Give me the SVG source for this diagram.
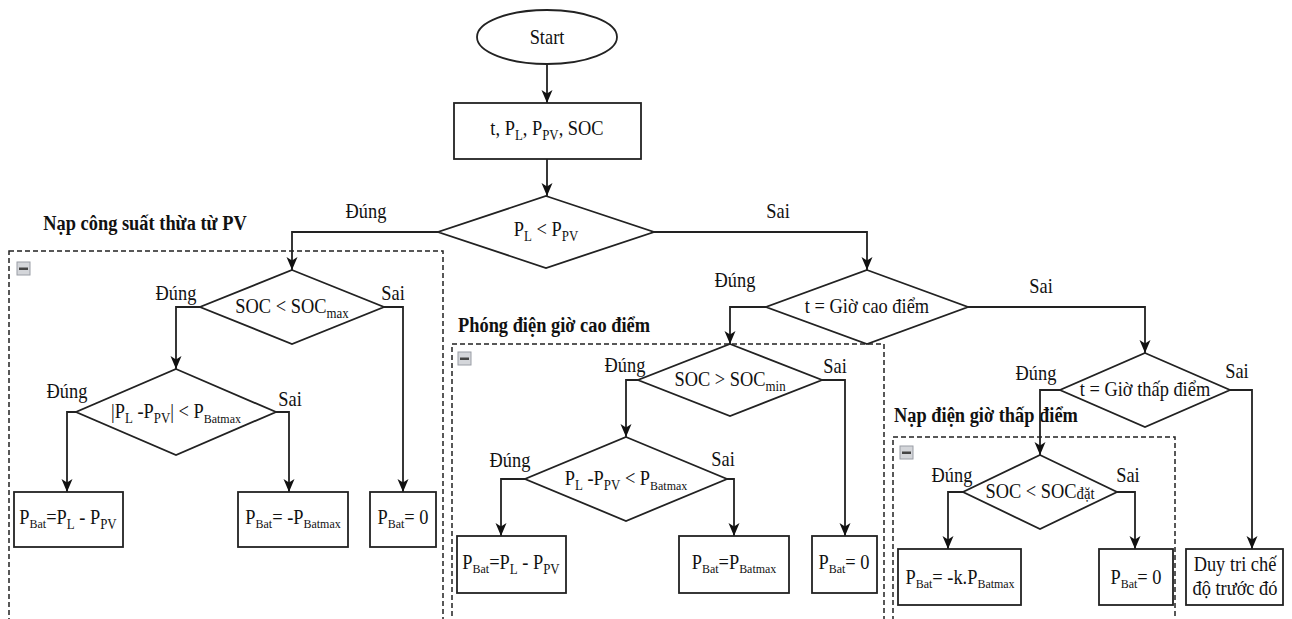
<svg xmlns="http://www.w3.org/2000/svg" width="1292" height="619" viewBox="0 0 1292 619" font-family="Liberation Serif, Times New Roman, serif">
<defs>
<style>
text{font-family:'Liberation Serif','Times New Roman',serif}
.t{font-size:20px;fill:#111;text-anchor:middle;transform-box:fill-box;transform-origin:center;transform:scaleX(0.92)}
.h{font-weight:bold}
.s{font-size:14px}
.b{font-size:13px}
.node{fill:#fff;stroke:#222;stroke-width:1.8}
.grp{fill:none;stroke:#222;stroke-width:1.5;stroke-dasharray:5 3}
.c{fill:none;stroke:#222;stroke-width:1.8;marker-end:url(#arr)}
.ic{fill:#d4d6da;stroke:#9a9ea6;stroke-width:1}
.icb{fill:#444}
</style>
<marker id="arr" markerUnits="userSpaceOnUse" markerWidth="14" markerHeight="12" refX="13" refY="5.5" orient="auto">
<path d="M0,0 L13,5.5 L0,11 L3.5,5.5 z" fill="#111"/>
</marker>
</defs>
<rect width="1292" height="619" fill="#fff"/>

<g id="groups">
<g id="grp-pv">
<rect class="grp" x="9" y="251" width="434" height="400"/>
<rect class="ic" x="17" y="262" width="13" height="13"/><rect class="icb" x="19" y="267.5" width="9" height="2.5"/>
<text class="t h" x="145" y="230">Nạp công suất thừa từ PV</text>
</g>
<g id="grp-peak">
<rect class="grp" x="452" y="344" width="432" height="300"/>
<rect class="ic" x="458" y="352" width="13" height="13"/><rect class="icb" x="460" y="357.5" width="9" height="2.5"/>
<text class="t h" x="554" y="332">Phóng điện giờ cao điểm</text>
</g>
<g id="grp-low">
<rect class="grp" x="893" y="437" width="282" height="250"/>
<rect class="ic" x="900" y="446" width="13" height="13"/><rect class="icb" x="902" y="451.5" width="9" height="2.5"/>
<text class="t h" x="986" y="422">Nạp điện giờ thấp điểm</text>
</g>
</g>

<g id="connectors">
<path class="c" d="M547,64 V103"/>
<path class="c" d="M547,159 V196"/>
<path class="c" d="M438,232 H292 V270"/>
<path class="c" d="M654,232 H867 V270"/>
<path class="c" d="M200,307 H176 V369"/>
<path class="c" d="M384,307 H403 V492"/>
<path class="c" d="M76,412 H67 V492"/>
<path class="c" d="M276,412 H289 V492"/>
<path class="c" d="M766,307 H730 V344"/>
<path class="c" d="M968,307 H1145 V353"/>
<path class="c" d="M638,380 H626 V437"/>
<path class="c" d="M822,380 H845 V536"/>
<path class="c" d="M525,479 H501 V536"/>
<path class="c" d="M727,479 H734 V536"/>
<path class="c" d="M1060,390 H1040 V455"/>
<path class="c" d="M1230,390 H1252 V549"/>
<path class="c" d="M963,492 H948 V549"/>
<path class="c" d="M1117,492 H1135 V549"/>
<text class="t" x="366" y="218">Đúng</text>
<text class="t" x="778" y="218">Sai</text>
<text class="t" x="176" y="300">Đúng</text>
<text class="t" x="393" y="300">Sai</text>
<text class="t" x="67" y="398">Đúng</text>
<text class="t" x="290" y="406">Sai</text>
<text class="t" x="735" y="287">Đúng</text>
<text class="t" x="1041" y="293">Sai</text>
<text class="t" x="625" y="372">Đúng</text>
<text class="t" x="835" y="373">Sai</text>
<text class="t" x="510" y="467">Đúng</text>
<text class="t" x="723" y="466">Sai</text>
<text class="t" x="1036" y="380">Đúng</text>
<text class="t" x="1237" y="378">Sai</text>
<text class="t" x="952" y="482">Đúng</text>
<text class="t" x="1128" y="482">Sai</text>
</g>

<g id="start">
<ellipse class="node" cx="547" cy="37" rx="70" ry="27"/>
<text class="t" x="547" y="44">Start</text>
</g>
<g id="input">
<rect class="node" x="454" y="103" width="187" height="56"/>
<text class="t" x="547" y="135">t, P<tspan class="s" dy="5">L</tspan><tspan dy="-5">, P</tspan><tspan class="s" dy="5">PV</tspan><tspan dy="-5">, SOC</tspan></text>
</g>
<g id="d-pl-ppv">
<polygon class="node" points="546,196 654,232 546,268 438,232"/>
<text class="t" x="546" y="236">P<tspan class="s" dy="5">L</tspan><tspan dy="-5"> &lt; P</tspan><tspan class="s" dy="5">PV</tspan></text>
</g>
<g id="d-soc-max">
<polygon class="node" points="292,270 384,307 292,344 200,307"/>
<text class="t" x="292" y="313">SOC &lt; SOC<tspan class="s" dy="5">max</tspan></text>
</g>
<g id="d-abs">
<polygon class="node" points="176,369 276,412 176,455 76,412"/>
<text class="t" x="176" y="418">|P<tspan class="s" dy="5">L</tspan><tspan dy="-5"> -P</tspan><tspan class="s" dy="5">PV</tspan><tspan dy="-5">| &lt; P</tspan><tspan class="b" dy="5">Batmax</tspan></text>
</g>
<g id="r-pv-1">
<rect class="node" x="14" y="492" width="109" height="55"/>
<text class="t" x="68" y="524">P<tspan class="b" dy="4">Bat</tspan><tspan dy="-4">=P</tspan><tspan class="s" dy="5">L</tspan><tspan dy="-5"> - P</tspan><tspan class="s" dy="5">PV</tspan></text>
</g>
<g id="r-pv-2">
<rect class="node" x="238" y="492" width="110" height="55"/>
<text class="t" x="293" y="524">P<tspan class="b" dy="4">Bat</tspan><tspan dy="-4">= -P</tspan><tspan class="b" dy="4">Batmax</tspan></text>
</g>
<g id="r-pv-3">
<rect class="node" x="370" y="492" width="66" height="55"/>
<text class="t" x="403" y="524">P<tspan class="b" dy="4">Bat</tspan><tspan dy="-4">= 0</tspan></text>
</g>
<g id="d-peak">
<polygon class="node" points="867,270 968,307 867,344 766,307"/>
<text class="t" x="867" y="313">t = Giờ cao điểm</text>
</g>
<g id="d-soc-min">
<polygon class="node" points="730,344 822,380 730,416 638,380"/>
<text class="t" x="730" y="386">SOC &gt; SOC<tspan class="s" dy="5">min</tspan></text>
</g>
<g id="d-diff">
<polygon class="node" points="626,437 727,479 626,521 525,479"/>
<text class="t" x="626" y="485">P<tspan class="s" dy="5">L</tspan><tspan dy="-5"> -P</tspan><tspan class="s" dy="5">PV</tspan><tspan dy="-5"> &lt; P</tspan><tspan class="b" dy="5">Batmax</tspan></text>
</g>
<g id="r-peak-1">
<rect class="node" x="457" y="536" width="109" height="57"/>
<text class="t" x="511" y="569">P<tspan class="b" dy="4">Bat</tspan><tspan dy="-4">=P</tspan><tspan class="s" dy="5">L</tspan><tspan dy="-5"> - P</tspan><tspan class="s" dy="5">PV</tspan></text>
</g>
<g id="r-peak-2">
<rect class="node" x="679" y="536" width="110" height="57"/>
<text class="t" x="734" y="569">P<tspan class="b" dy="4">Bat</tspan><tspan dy="-4">=P</tspan><tspan class="b" dy="4">Batmax</tspan></text>
</g>
<g id="r-peak-3">
<rect class="node" x="812" y="536" width="65" height="57"/>
<text class="t" x="844" y="569">P<tspan class="b" dy="4">Bat</tspan><tspan dy="-4">= 0</tspan></text>
</g>
<g id="d-low">
<polygon class="node" points="1145,353 1230,390 1145,427 1060,390"/>
<text class="t" x="1145" y="396">t = Giờ thấp điểm</text>
</g>
<g id="d-soc-set">
<polygon class="node" points="1040,455 1117,492 1040,529 963,492"/>
<text class="t" x="1040" y="498">SOC &lt; SOC<tspan style="font-size:16px" dy="1">đặt</tspan></text>
</g>
<g id="r-low-1">
<rect class="node" x="898" y="549" width="123" height="56"/>
<text class="t" x="960" y="584">P<tspan class="b" dy="4">Bat</tspan><tspan dy="-4">= -k.P</tspan><tspan class="b" dy="4">Batmax</tspan></text>
</g>
<g id="r-low-2">
<rect class="node" x="1099" y="549" width="74" height="56"/>
<text class="t" x="1136" y="584">P<tspan class="b" dy="4">Bat</tspan><tspan dy="-4">= 0</tspan></text>
</g>
<g id="r-keep">
<rect class="node" x="1186" y="549" width="97" height="56"/>
<text class="t" x="1235" y="571">Duy tri chế</text>
<text class="t" x="1235" y="595">độ trước đó</text>
</g>
</svg>
